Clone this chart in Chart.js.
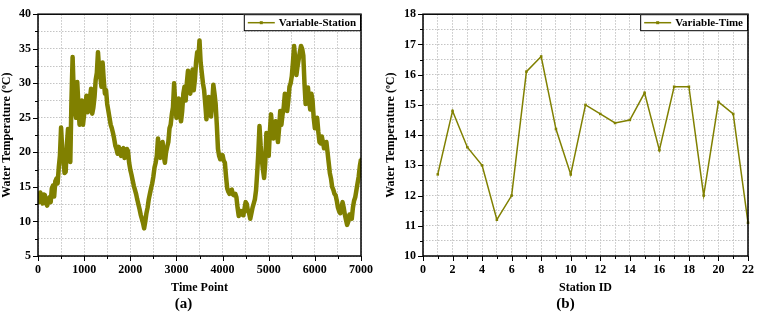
<!DOCTYPE html>
<html>
<head>
<meta charset="utf-8">
<script src="https://cdn.jsdelivr.net/npm/chart.js@4.4.0/dist/chart.umd.min.js"></script>
<style>
    html, body { margin: 0; padding: 0; background: #fff; }
    #wrapA { position: absolute; left: 0; top: 0; width: 380px; height: 319px; }
    #wrapB { position: absolute; left: 380px; top: 0; width: 381px; height: 319px; }
</style>
</head>
<body>
<div id="wrapA"><canvas id="chartA"></canvas></div>
<div id="wrapB"><canvas id="chartB"></canvas></div>
<script>
// Panel (a): water temperature along the time points
const timePoints = [
    0, 25, 50, 75, 100, 125, 150, 175, 200, 225, 250, 275, 300, 325, 350, 375, 400, 425, 450, 475,
    500, 525, 550, 575, 600, 625, 650, 675, 700, 725, 750, 775, 800, 825, 850, 875, 900, 925, 950, 975,
    1000, 1025, 1050, 1075, 1100, 1125, 1150, 1175, 1200, 1225, 1250, 1275, 1300, 1325, 1350, 1375, 1400, 1425, 1450, 1475,
    1500, 1525, 1550, 1575, 1600, 1625, 1650, 1675, 1700, 1725, 1750, 1775, 1800, 1825, 1850, 1875, 1900, 1925, 1950, 1975,
    2000, 2025, 2050, 2075, 2100, 2125, 2150, 2175, 2200, 2225, 2250, 2275, 2300, 2325, 2350, 2375, 2400, 2425, 2450, 2475,
    2500, 2525, 2550, 2575, 2600, 2625, 2650, 2675, 2700, 2725, 2750, 2775, 2800, 2825, 2850, 2875, 2900, 2925, 2950, 2975,
    3000, 3025, 3050, 3075, 3100, 3125, 3150, 3175, 3200, 3225, 3250, 3275, 3300, 3325, 3350, 3375, 3400, 3425, 3450, 3475,
    3500, 3525, 3550, 3575, 3600, 3625, 3650, 3675, 3700, 3725, 3750, 3775, 3800, 3825, 3850, 3875, 3900, 3925, 3950, 3975,
    4000, 4025, 4050, 4075, 4100, 4125, 4150, 4175, 4200, 4225, 4250, 4275, 4300, 4325, 4350, 4375, 4400, 4425, 4450, 4475,
    4500, 4525, 4550, 4575, 4600, 4625, 4650, 4675, 4700, 4725, 4750, 4775, 4800, 4825, 4850, 4875, 4900, 4925, 4950, 4975,
    5000, 5025, 5050, 5075, 5100, 5125, 5150, 5175, 5200, 5225, 5250, 5275, 5300, 5325, 5350, 5375, 5400, 5425, 5450, 5475,
    5500, 5525, 5550, 5575, 5600, 5625, 5650, 5675, 5700, 5725, 5750, 5775, 5800, 5825, 5850, 5875, 5900, 5925, 5950, 5975,
    6000, 6025, 6050, 6075, 6100, 6125, 6150, 6175, 6200, 6225, 6250, 6275, 6300, 6325, 6350, 6375, 6400, 6425, 6450, 6475,
    6500, 6525, 6550, 6575, 6600, 6625, 6650, 6675, 6700, 6725, 6750, 6775, 6800, 6825, 6850, 6875, 6900, 6925, 6950, 6975,
    7000
];
const tempStation = [
    13.0, 12.8, 14.2, 13.5, 12.6, 13.9, 13.8, 12.6, 12.3, 13.0, 13.5, 12.8, 14.8, 15.2, 13.6, 15.8, 16.2, 15.5, 17.8, 19.5,
    23.6, 20.5, 19.0, 17.0, 17.2, 21.0, 23.4, 20.5, 18.6, 27.5, 33.8, 28.5, 26.0, 25.0, 30.2, 27.0, 24.0, 26.5, 27.5, 24.0,
    25.5, 26.5, 28.2, 25.8, 26.0, 27.8, 29.2, 25.6, 26.5, 28.0, 30.5, 31.5, 34.5, 32.0, 31.0, 29.5, 33.0, 30.5, 28.5, 29.0,
    27.0, 26.0, 25.0, 24.0, 23.5, 22.8, 22.0, 21.0, 20.5, 19.8, 20.8, 20.0, 19.5, 20.4, 20.6, 19.2, 19.3, 20.5, 20.2, 18.5,
    17.5, 16.8, 16.0, 15.2, 14.6, 14.0, 13.2, 12.5, 11.8, 11.0, 10.4, 9.8, 9.0, 10.0, 11.2, 12.0, 13.2, 14.0, 14.8, 15.5,
    16.5, 17.8, 18.5, 19.5, 22.0, 20.0, 19.2, 21.0, 21.5, 19.5, 18.5, 20.0, 20.8, 21.5, 23.5, 24.0, 25.5, 26.5, 30.0, 27.0,
    25.0, 26.5, 27.8, 25.5, 24.5, 26.0, 28.5, 29.5, 27.5, 30.0, 31.8, 29.0, 28.5, 30.5, 32.0, 29.0, 30.5, 33.0, 34.5, 33.5,
    36.2, 33.0, 31.5, 30.0, 29.0, 27.0, 24.8, 26.5, 28.0, 26.5, 25.2, 27.0, 29.8, 28.5, 27.0, 24.0, 20.5, 19.5, 19.0, 19.3,
    19.6, 18.8, 18.5, 16.5, 14.8, 14.3, 14.0, 14.5, 14.6, 13.9, 13.8, 14.0, 13.5, 12.0, 10.8, 11.5, 11.5, 11.0, 10.9, 11.8,
    12.8, 12.5, 11.5, 11.2, 10.4, 11.2, 12.0, 12.6, 13.2, 14.5, 17.0, 20.0, 23.8, 21.0, 19.0, 17.5, 16.3, 18.5, 22.8, 21.0,
    19.5, 23.0, 25.5, 23.5, 22.0, 22.8, 24.5, 23.0, 21.5, 23.5, 26.0, 24.0, 25.5, 26.5, 28.5, 27.5, 26.0, 27.5, 29.5, 30.0,
    31.0, 33.0, 35.4, 33.5, 31.2, 32.5, 33.5, 34.5, 35.4, 35.0, 34.0, 30.0, 27.0, 28.0, 29.4, 27.5, 26.2, 28.5, 27.5, 25.0,
    23.5, 24.0, 25.0, 23.0, 21.5, 21.3, 22.3, 21.5, 20.6, 21.0, 21.5, 20.0, 18.5, 17.0, 16.2, 15.0, 14.6, 14.0, 13.8, 13.0,
    12.0, 11.5, 11.2, 12.0, 12.8, 12.0, 11.0, 10.2, 9.5, 10.0, 11.0, 10.8, 10.4, 12.0, 13.0, 13.5, 14.5, 15.5, 16.5, 18.0,
    19.0
];

// Panel (b): water temperature per station
const stationIds = [1, 2, 3, 4, 5, 6, 7, 8, 9, 10, 11, 12, 13, 14, 15, 16, 17, 18, 19, 20, 21, 22];
const tempTime = [12.7, 14.8, 13.6, 13.0, 11.2, 12.0, 16.1, 16.6, 14.2, 12.7, 15.0, 14.7, 14.4, 14.5, 15.4, 13.5, 15.6, 15.6, 12.0, 15.1, 14.7, 11.1];

const OLIVE = '#808000';
const FONT = '"Liberation Serif", "Times New Roman", serif';
Chart.defaults.font.family = FONT;
Chart.defaults.color = '#000';

// Frame around the plot plus outward major/minor tick marks
const frameTicks = {
    id: 'frameTicks',
    afterDraw(chart) {
        const ctx = chart.ctx;
        const a = chart.chartArea;
        const xs = chart.scales.x, ys = chart.scales.y;
        ctx.save();
        ctx.strokeStyle = '#000';
        ctx.lineWidth = 1;
        xs.ticks.forEach(t => {
            const px = Math.round(xs.getPixelForValue(t.value)) + 0.5;
            const len = t.label !== '' ? 5 : 3;
            ctx.beginPath();
            ctx.moveTo(px, a.bottom);
            ctx.lineTo(px, a.bottom + len);
            ctx.stroke();
        });
        ys.ticks.forEach(t => {
            const py = Math.round(ys.getPixelForValue(t.value)) + 0.5;
            const len = t.label !== '' ? 5 : 3;
            ctx.beginPath();
            ctx.moveTo(a.left, py);
            ctx.lineTo(a.left - len, py);
            ctx.stroke();
        });
        ctx.lineWidth = 1.5;
        ctx.strokeRect(a.left, a.top, a.right - a.left, a.bottom - a.top);
        ctx.restore();
    }
};

// Boxed legend in the top right corner of the plot
const boxLegend = {
    id: 'boxLegend',
    afterDraw(chart, args, opts) {
        const ctx = chart.ctx;
        const a = chart.chartArea;
        ctx.save();
        ctx.font = 'bold 11px ' + FONT;
        const tw = ctx.measureText(opts.text).width;
        const w = 4 + 27 + 4 + tw + 5;
        const h = 17;
        const x0 = a.right - w;
        const y0 = a.top;
        ctx.fillStyle = '#fff';
        ctx.fillRect(x0, y0, w, h);
        ctx.strokeStyle = '#000';
        ctx.lineWidth = 1;
        ctx.strokeRect(x0 + 0.5, y0 + 0.5, w - 1, h - 1);
        const cy = y0 + h / 2;
        ctx.strokeStyle = OLIVE;
        ctx.lineWidth = 1.5;
        ctx.beginPath();
        ctx.moveTo(x0 + 4, cy);
        ctx.lineTo(x0 + 31, cy);
        ctx.stroke();
        ctx.fillStyle = OLIVE;
        ctx.fillRect(x0 + 16, cy - 1.5, 3, 3);
        ctx.fillStyle = '#000';
        ctx.textBaseline = 'middle';
        ctx.fillText(opts.text, x0 + 35, cy + 0.5);
        ctx.restore();
    }
};

function makeScales(xMin, xMax, xStep, xMajor, yMin, yMax, yStep, yMajor, xTitle, yWidth, yTitlePad) {
    const gridStyle = { color: '#c4c4c4', lineWidth: 1, drawTicks: false };
    const borderStyle = { display: false, dash: [1.5, 1.5] };
    return {
        x: {
            type: 'linear', min: xMin, max: xMax,
            grid: gridStyle, border: borderStyle,
            ticks: {
                stepSize: xStep, padding: 7, maxRotation: 0, autoSkip: false,
                font: { size: 12, weight: 'bold' },
                callback: v => (Math.abs(v % xMajor) < 1e-6 ? String(v) : '')
            },
            title: { display: true, text: xTitle, font: { size: 12, weight: 'bold' }, padding: { top: 4, bottom: 0 } },
            afterFit: s => { s.height = 39; }
        },
        y: {
            type: 'linear', min: yMin, max: yMax,
            grid: gridStyle, border: borderStyle,
            ticks: {
                stepSize: yStep, padding: 7, autoSkip: false,
                font: { size: 12, weight: 'bold' },
                callback: v => (Math.abs(v % yMajor) < 1e-6 ? String(v) : '')
            },
            title: { display: true, text: 'Water Temperature (ºC)', font: { size: 12, weight: 'bold' }, padding: { top: yTitlePad, bottom: 0 } },
            afterFit: s => { s.width = yWidth; }
        }
    };
}

new Chart(document.getElementById('chartA'), {
    type: 'line',
    data: {
        datasets: [{
            label: 'Variable-Station',
            data: timePoints.map((t, i) => ({ x: t, y: tempStation[i] })),
            borderColor: OLIVE,
            backgroundColor: OLIVE,
            borderWidth: 4.5,
            pointStyle: 'rect',
            pointRadius: 2,
            pointBorderWidth: 0,
            borderJoinStyle: 'round',
            tension: 0
        }]
    },
    options: {
        responsive: true,
        maintainAspectRatio: false,
        animation: false,
        layout: { padding: { left: 0, right: 13, top: 9, bottom: 0 } },
        scales: makeScales(0, 7000, 500, 1000, 5, 40, 2.5, 5, 'Time Point', 38, 0),
        plugins: {
            legend: { display: false },
            tooltip: { enabled: false },
            title: { display: true, text: '(a)', position: 'bottom', font: { size: 15, weight: 'bold' }, color: '#000', padding: { top: 0, bottom: 6 } },
            boxLegend: { text: 'Variable-Station' }
        }
    },
    plugins: [frameTicks, boxLegend]
});

new Chart(document.getElementById('chartB'), {
    type: 'line',
    data: {
        datasets: [{
            label: 'Variable-Time',
            data: stationIds.map((s, i) => ({ x: s, y: tempTime[i] })),
            borderColor: OLIVE,
            backgroundColor: OLIVE,
            borderWidth: 1.5,
            pointStyle: 'rect',
            pointRadius: 1.8,
            pointBorderWidth: 0,
            tension: 0,
            clip: false
        }]
    },
    options: {
        responsive: true,
        maintainAspectRatio: false,
        animation: false,
        layout: { padding: { left: 0, right: 10, top: 9, bottom: 0 } },
        scales: makeScales(0, 22, 1, 2, 10, 18, 0.5, 1, 'Station ID', 43, 4),
        plugins: {
            legend: { display: false },
            tooltip: { enabled: false },
            title: { display: true, text: '(b)', position: 'bottom', font: { size: 15, weight: 'bold' }, color: '#000', padding: { top: 0, bottom: 6 } },
            boxLegend: { text: 'Variable-Time' }
        }
    },
    plugins: [frameTicks, boxLegend]
});
</script>
</body>
</html>
